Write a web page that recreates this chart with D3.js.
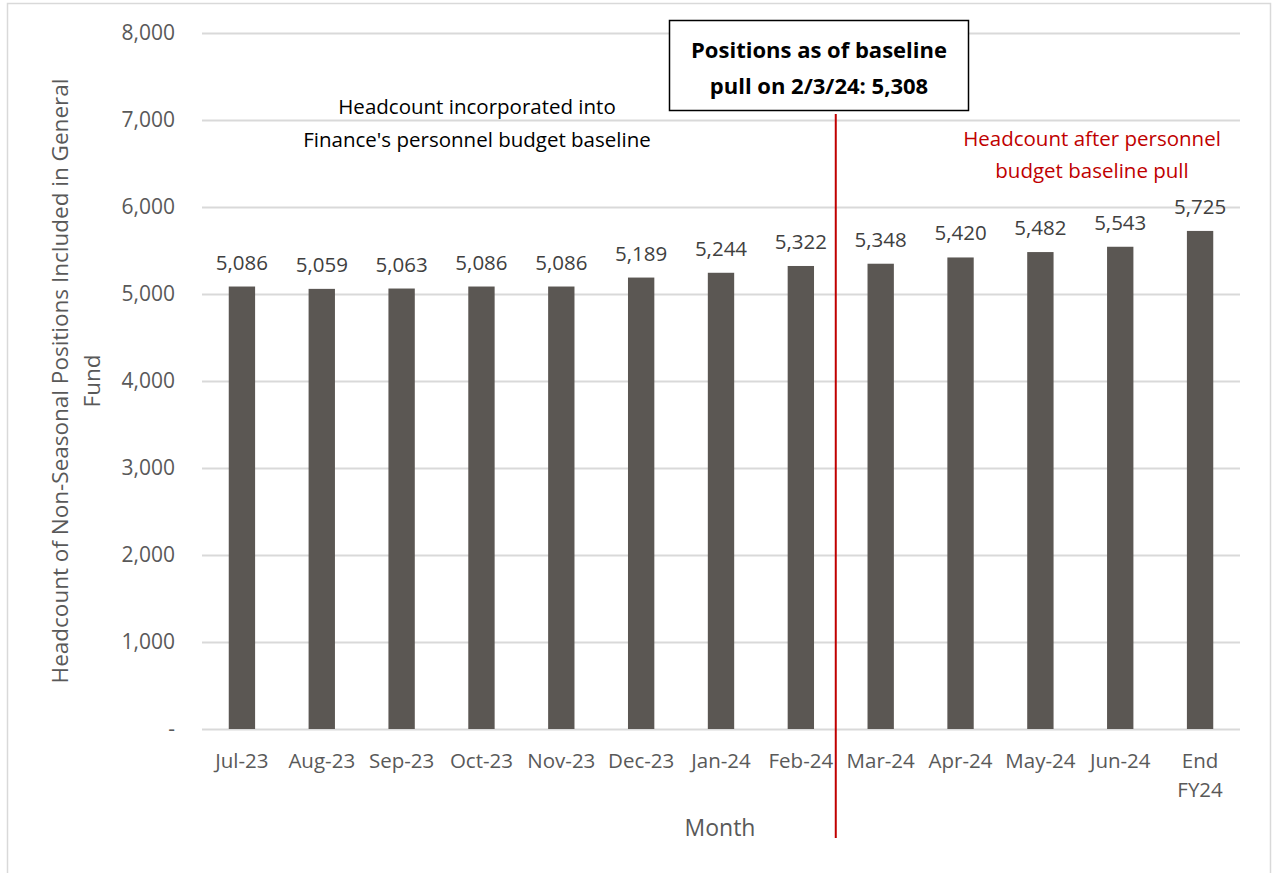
<!DOCTYPE html>
<html>
<head>
<meta charset="utf-8">
<script src="https://cdn.jsdelivr.net/npm/d3@7"></script>
<style>
  html, body { margin: 0; padding: 0; background: #fff; }
  svg { display: block; font-family: "Open Sans", "Noto Sans", sans-serif; }
</style>
</head>
<body>
<svg id="chart" width="1274" height="873"></svg>
<script>
// Monthly headcount of non-seasonal general fund positions
const months = ["Jul-23", "Aug-23", "Sep-23", "Oct-23", "Nov-23", "Dec-23", "Jan-24",
                "Feb-24", "Mar-24", "Apr-24", "May-24", "Jun-24", "End FY24"];
const headcount = [5086, 5059, 5063, 5086, 5086, 5189, 5244, 5322, 5348, 5420, 5482, 5543, 5725];
const yTicks = [0, 1000, 2000, 3000, 4000, 5000, 6000, 7000, 8000];
const baselineAfter = "Feb-24";   // baseline pull falls between Feb-24 and Mar-24
const baselineLabel = ["Positions as of baseline", "pull on 2/3/24: 5,308"];
const leftNote = ["Headcount incorporated into", "Finance's personnel budget baseline"];
const rightNote = ["Headcount after personnel", "budget baseline pull"];
const yTitle = ["Headcount of Non-Seasonal Positions Included in General", "Fund"];
const xTitle = "Month";

const svg = d3.select("#chart");
const W = 1274, H = 873;
const plot = { left: 202, right: 1240, top: 33, bottom: 729 };

// outer frame
svg.append("rect")
  .attr("x", 7.5).attr("y", 3.5).attr("width", 1263).attr("height", H + 10)
  .attr("fill", "none").attr("stroke", "#d9d9d9").attr("stroke-width", 1.5);

const x = d3.scaleBand().domain(months).range([plot.left, plot.right]).paddingInner(0.67).paddingOuter(0.335);
const y = d3.scaleLinear().domain([0, 8000]).range([plot.bottom, plot.top]);

const fmt = d3.format(",");

// gridlines and y labels
const yAxis = d3.axisLeft(y).tickValues(yTicks)
  .tickSize(-(plot.right - plot.left))
  .tickFormat(d => d === 0 ? "-" : fmt(d));
const gy = svg.append("g").attr("transform", `translate(${plot.left},0)`).call(yAxis);
gy.select(".domain").remove();
gy.selectAll(".tick line").attr("stroke", "#d9d9d9").attr("stroke-width", 2);
gy.selectAll(".tick text")
  .attr("x", -27).attr("fill", "#595959")
  .style("font-size", "21px").style("font-family", "\"Open Sans\", sans-serif");

// bars
svg.append("g").selectAll("rect").data(months).join("rect")
  .attr("x", d => x(d))
  .attr("width", x.bandwidth())
  .attr("y", (d, i) => y(headcount[i]))
  .attr("height", (d, i) => y(0) - y(headcount[i]))
  .attr("fill", "#5b5753");

// value labels
svg.append("g").selectAll("text").data(months).join("text")
  .attr("x", d => x(d) + x.bandwidth() / 2)
  .attr("y", (d, i) => y(headcount[i]) - 17)
  .attr("text-anchor", "middle")
  .attr("fill", "#404040")
  .style("font-size", "20.5px")
  .text((d, i) => fmt(headcount[i]));

// x axis labels
const xl = svg.append("g").selectAll("text").data(months).join("text")
  .attr("x", d => x(d) + x.bandwidth() / 2)
  .attr("y", 768)
  .attr("text-anchor", "middle")
  .attr("fill", "#595959")
  .style("font-size", "20.5px");
xl.each(function(d) {
  const parts = d === "End FY24" ? ["End", "FY24"] : [d];
  const t = d3.select(this);
  parts.forEach((p, k) => t.append("tspan")
    .attr("x", x(d) + x.bandwidth() / 2)
    .attr("dy", k === 0 ? 0 : 29)
    .text(p));
});

// axis titles
svg.append("text")
  .attr("x", 720).attr("y", 836)
  .attr("text-anchor", "middle").attr("fill", "#595959")
  .style("font-size", "23px")
  .text(xTitle);

const yt = svg.append("text")
  .attr("transform", "translate(68,381) rotate(-90)")
  .attr("text-anchor", "middle").attr("fill", "#595959")
  .style("font-size", "22.5px");
yTitle.forEach((p, k) => yt.append("tspan").attr("x", 0).attr("dy", k === 0 ? 0 : 32).text(p));

// baseline pull divider
const xDiv = (x(baselineAfter) + x.bandwidth() + x(months[months.indexOf(baselineAfter) + 1])) / 2 - 5;
svg.append("line")
  .attr("x1", xDiv).attr("x2", xDiv).attr("y1", 114).attr("y2", 838)
  .attr("stroke", "#c00000").attr("stroke-width", 2);

// baseline callout box
svg.append("rect")
  .attr("x", 669.5).attr("y", 20.5).attr("width", 299).attr("height", 90)
  .attr("fill", "#fff").attr("stroke", "#000").attr("stroke-width", 1.5);
const bt = svg.append("text").attr("text-anchor", "middle").attr("fill", "#000")
  .style("font-size", "22px").style("font-weight", "bold");
baselineLabel.forEach((p, k) => bt.append("tspan").attr("x", 819).attr("y", k === 0 ? 58 : 94).text(p));

// annotations
const lt = svg.append("text").attr("text-anchor", "middle").attr("fill", "#000").style("font-size", "20.5px");
leftNote.forEach((p, k) => lt.append("tspan").attr("x", 477).attr("y", k === 0 ? 114 : 147).text(p));

const rt = svg.append("text").attr("text-anchor", "middle").attr("fill", "#c00000").style("font-size", "20.5px");
rightNote.forEach((p, k) => rt.append("tspan").attr("x", 1092).attr("y", k === 0 ? 146 : 178).text(p));
</script>
</body>
</html>
